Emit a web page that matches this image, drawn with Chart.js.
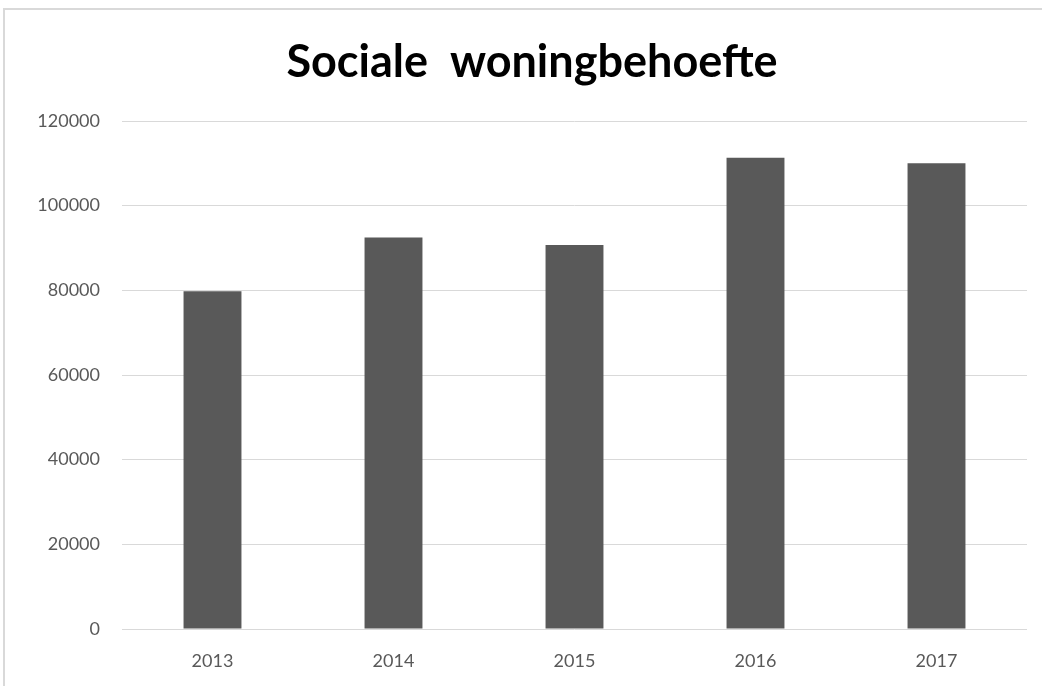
<!DOCTYPE html>
<html>
<head>
<meta charset="utf-8">
<script src="https://cdn.jsdelivr.net/npm/chart.js@4"></script>
<style>
  html, body { margin: 0; padding: 0; background: #fff; }
  #frame {
    position: absolute; left: 3px; top: 8px; width: 1039px; height: 678px;
    border-top: 2px solid #d9d9d9; border-left: 2px solid #d9d9d9;
  }
  #wrap { position: absolute; left: 0; top: 0; width: 1037px; height: 676px; }
</style>
</head>
<body>
<div id="frame"><div id="wrap"><canvas id="chart"></canvas></div></div>
<script>
const years = ["2013", "2014", "2015", "2016", "2017"];
const behoefte = [79800, 92500, 90700, 111300, 110000];
const yTicks = [0, 20000, 40000, 60000, 80000, 100000, 120000];

const tickFont = { family: "Lato, 'Open Sans', sans-serif", size: 18 };

let ctx = document.getElementById("chart").getContext("2d");
let myChart = new Chart(ctx, {
    type: "bar",
    data: {
        labels: years,
        datasets: [{
            data: behoefte,
            backgroundColor: "#595959",
            borderWidth: 0,
            categoryPercentage: 1,
            barPercentage: 0.32
        }]
    },
    options: {
        responsive: true,
        maintainAspectRatio: false,
        animation: false,
        layout: { padding: { left: 32, right: 15, top: 0, bottom: 0 } },
        plugins: {
            legend: { display: false },
            tooltip: { enabled: false },
            title: {
                display: true,
                text: "Sociale  woningbehoefte",
                color: "#000",
                font: { family: "Lato, 'Open Sans', sans-serif", size: 45, weight: "bold" },
                padding: { top: 25, bottom: 32 }
            }
        },
        scales: {
            x: {
                grid: { display: false, drawTicks: false },
                border: { display: false },
                ticks: { color: "#595959", font: tickFont, padding: 21 },
                afterFit: (scale) => { scale.height = 57; }
            },
            y: {
                min: 0,
                max: 120000,
                afterBuildTicks: (scale) => { scale.ticks = yTicks.map(v => ({ value: v })); },
                grid: { color: "#d9d9d9", lineWidth: 1, drawTicks: false },
                border: { display: false },
                ticks: {
                    color: "#595959", font: tickFont, padding: 22,
                    callback: (value) => String(value)
                },
                afterFit: (scale) => { scale.width = 85; }
            }
        }
    }
});
</script>
</body>
</html>
